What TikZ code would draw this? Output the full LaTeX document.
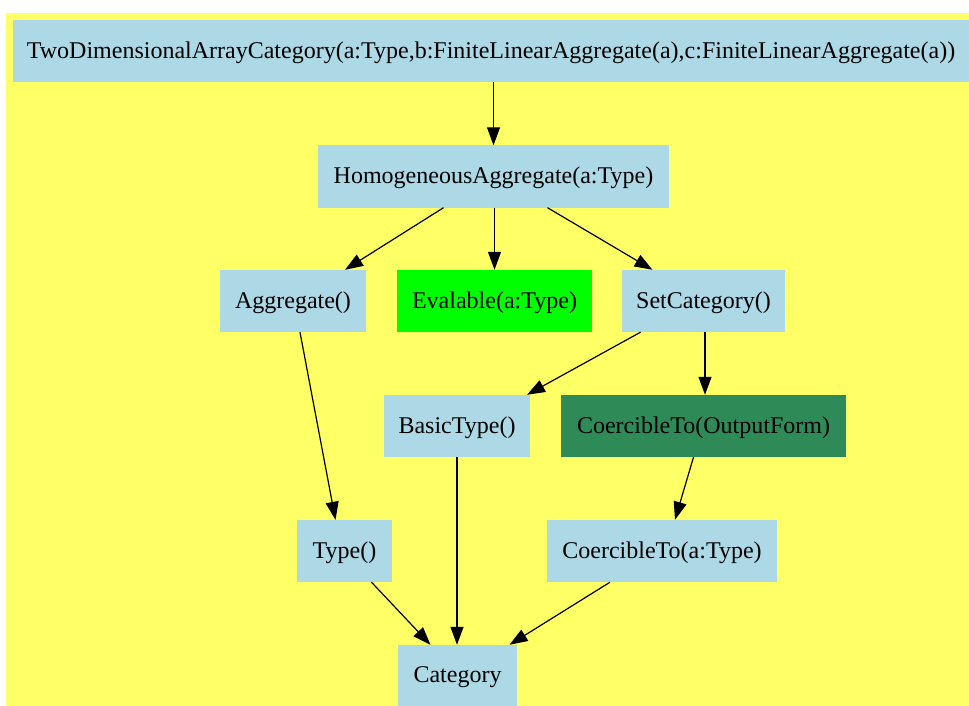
\documentclass[tikz,border=0pt]{standalone}
\usepackage{fontspec}
\setmainfont{Liberation Serif}
\usepackage{tikz}
\usetikzlibrary{
    arrows.meta,
    positioning
}
\definecolor{bgyellow}{RGB}{255,255,102}
\definecolor{lblue}{RGB}{173,216,230}
\definecolor{lgreen}{RGB}{0,255,0}
\definecolor{sgreen}{RGB}{46,139,87}

\begin{document}
\begin{tikzpicture}[
    x=1pt, y=-1pt,
    every node/.style={font=\fontsize{24}{28}\selectfont},
    box/.style={
        draw=none,
        inner sep=0pt,
        align=center,
        minimum height=62pt,
        text depth=2pt,
        fill=lblue
    },
    boxeval/.style={
        box,
        fill=lgreen
    },
    boxcoerce/.style={
        box,
        fill=sgreen
    },
    arrow/.style={
        -{Triangle[length=18pt,width=13pt]},
        line width=1.2pt
    }
]

\useasboundingbox (0,0) rectangle (969,706);
\fill[white] (0,0) rectangle (969,706);
\fill[bgyellow] (6,13) rectangle (969,706);

\node[box, minimum width=956pt] (top) at (491,51) {TwoDimensionalArrayCategory(a:Type,b:FiniteLinearAggregate(a),c:FiniteLinearAggregate(a))};
\node[box, minimum width=351pt] (hom) at (493.5,176.5) {HomogeneousAggregate(a:Type)};
\node[box, minimum width=146pt] (agg) at (293,301) {Aggregate()};
\node[boxeval, minimum width=195pt] (eval) at (494.5,301) {Evalable(a:Type)};
\node[box, minimum width=163pt] (setcat) at (703.5,301) {SetCategory()};
\node[box, minimum width=146pt] (basic) at (457,426) {BasicType()};
\node[boxcoerce, minimum width=285pt] (coout) at (703.5,426) {CoercibleTo(OutputForm)};
\node[box, minimum width=95pt] (type) at (344.5,551) {Type()};
\node[box, minimum width=230pt] (cotype) at (662,551) {CoercibleTo(a:Type)};
\node[box, minimum width=119pt] (cat) at (457.5,676) {Category};

\draw[arrow] (top.south -| hom.north) -- (hom.north);
\draw[arrow] ([xshift=-50pt]hom.south) -- ([xshift=52pt]agg.north);
\draw[arrow] (hom.south -| eval.north) -- (eval.north);
\draw[arrow] ([xshift=54pt]hom.south) -- ([xshift=-51pt]setcat.north);
\draw[arrow] ([xshift=7pt]agg.south) -- ([xshift=-9pt]type.north);
\draw[arrow] ([xshift=-63pt]setcat.south) -- ([xshift=70pt]basic.north);
\draw[arrow] ([xshift=1.5pt]setcat.south) -- ([xshift=1.5pt]coout.north);
\draw[arrow] (basic.south) -- (basic.south |- cat.north);
\draw[arrow] ([xshift=-10pt]coout.south) -- ([xshift=13pt]cotype.north);
\draw[arrow] ([xshift=27pt]type.south) -- ([xshift=-27pt]cat.north);
\draw[arrow] ([xshift=-52pt]cotype.south) -- ([xshift=52pt]cat.north);

\end{tikzpicture}
\end{document}
